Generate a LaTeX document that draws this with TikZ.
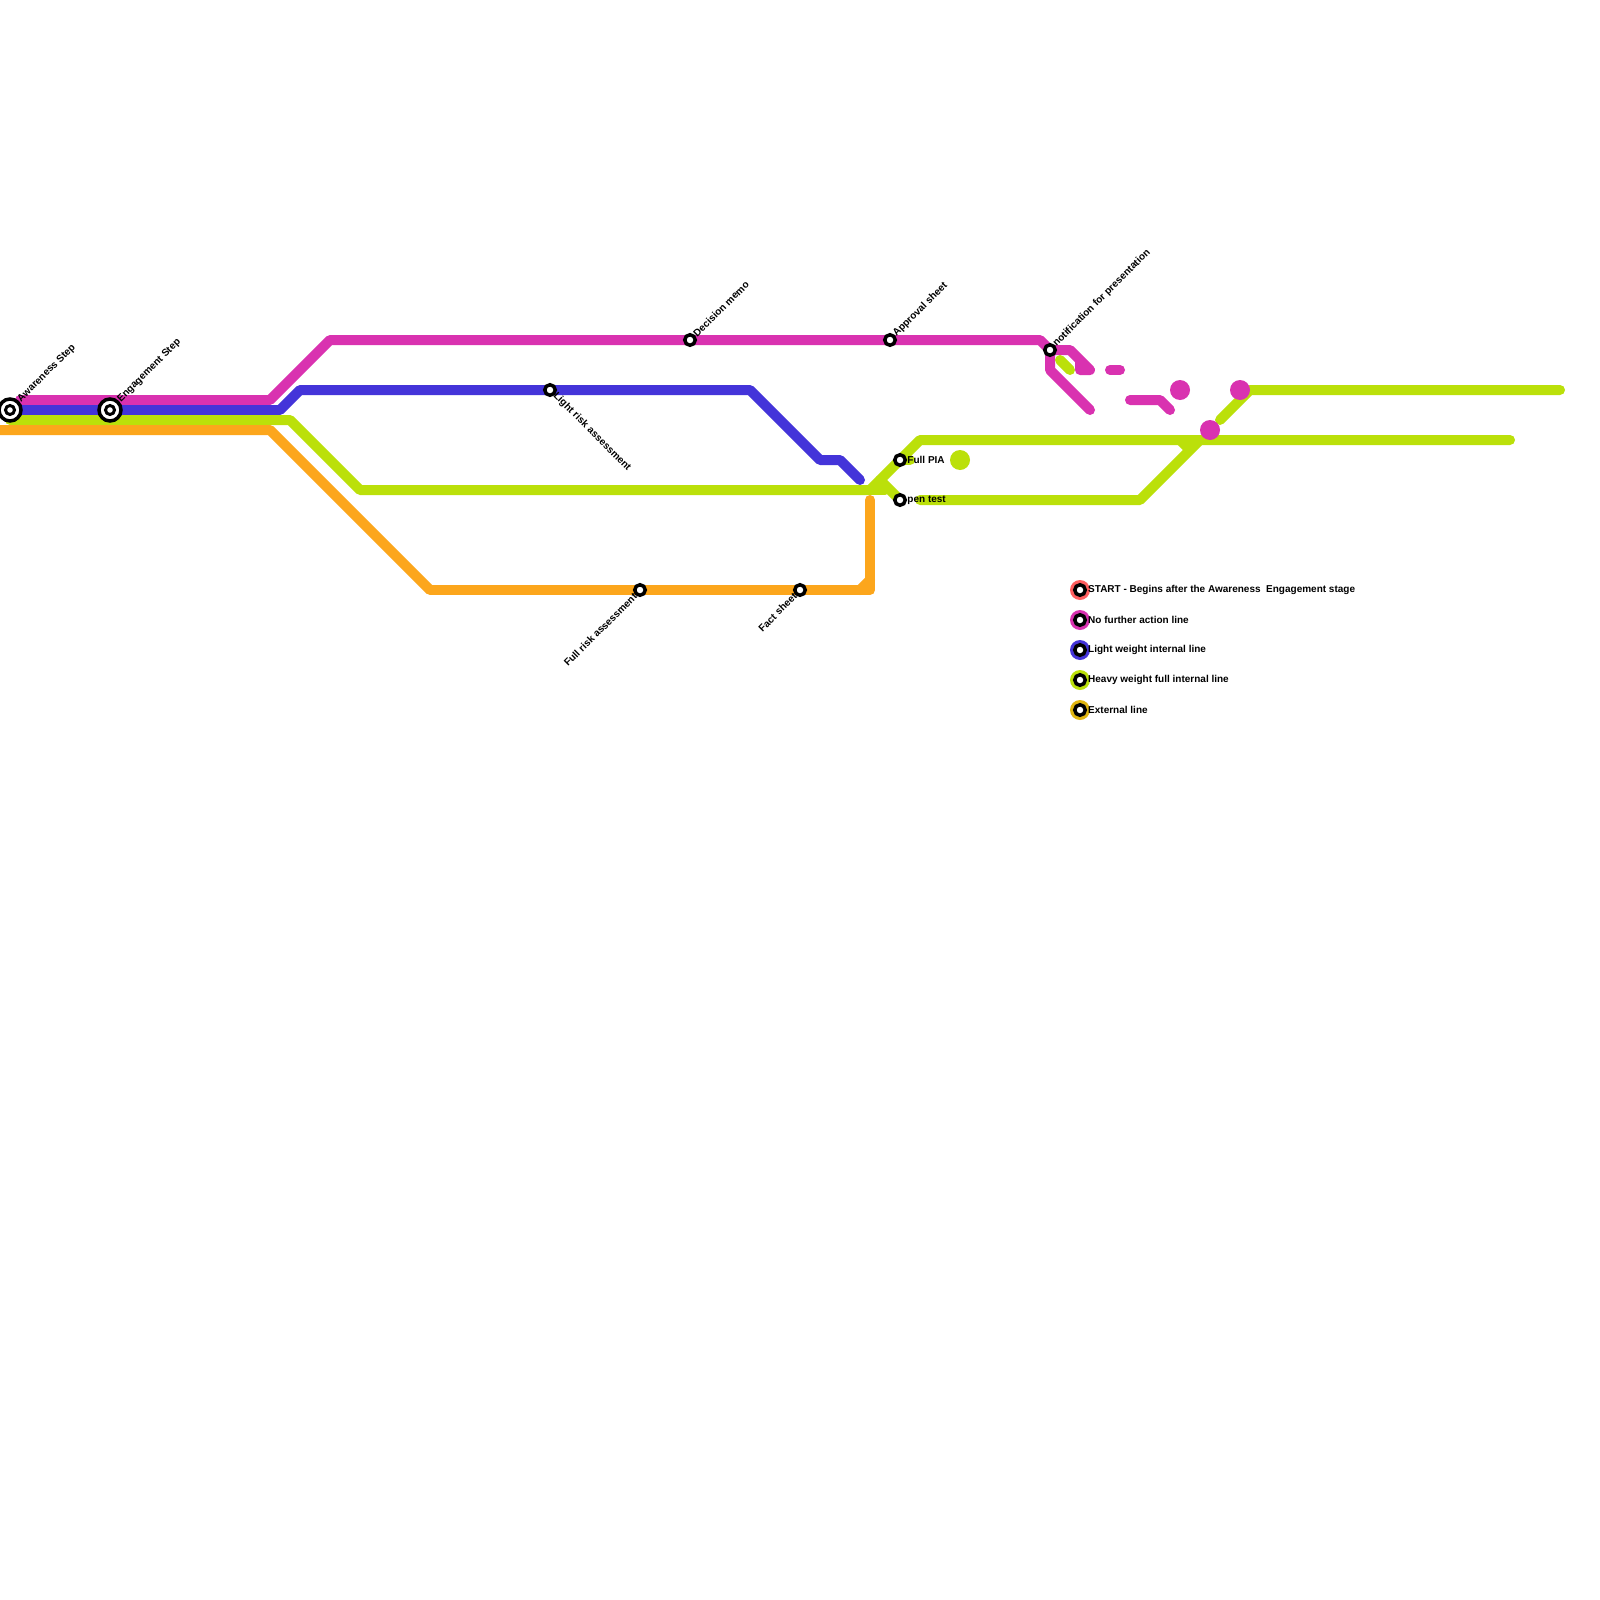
\documentclass[tikz,border=0pt]{standalone}
\usepackage{fontspec}
\setmainfont{Liberation Sans}
\usetikzlibrary{positioning}
\definecolor{nfa}{HTML}{D932B0}
\definecolor{lwt}{HTML}{4434D9}
\definecolor{hwt}{HTML}{BBE00A}
\definecolor{ext}{HTML}{FCA61C}
\definecolor{startc}{HTML}{FF5F5F}
\definecolor{extkey}{HTML}{E0B510}
\begin{document}
\begin{tikzpicture}[x=1pt, y=-1pt, every node/.style={font=\bfseries\fontsize{10pt}{12pt}\selectfont, inner sep=0pt}]
\tikzset{line/.style={line width=10pt, line cap=round, line join=round}}
\tikzset{stn/.style={draw, circle, line width=3.5pt, outer sep=0pt, fill=white, minimum size=10.5pt}}
\tikzset{startstn/.style={draw, circle, line width=3.5pt, outer sep=0pt, fill=white, minimum size=22pt}}
\tikzset{blob/.style={circle, minimum size=20pt}}
\useasboundingbox (0,0) rectangle (1600,1600);
\fill[white] (0,0) rectangle (1600,1600);
% stations
\coordinate (aware) at (10,410);
\coordinate (engage) at (110,410);
\coordinate (lrisk) at (550,390);
\coordinate (memo) at (690,340);
\coordinate (appr) at (890,340);
\coordinate (notif) at (1050,350);
\coordinate (fpia) at (900,460);
\coordinate (pent) at (900,500);
\coordinate (frisk) at (640,590);
\coordinate (fact) at (800,590);
% no further action
\draw[line, nfa] (20,400) -- (270,400) -- (330,340) -- (memo) -- (appr) -- (1040,340) -- (notif) -- (1050,370) -- (1090,410);
\draw[line, nfa] (notif) -- (1070,350) -- (1090,370) -- (1080,370) -- (1080,360);
\draw[line, nfa] (1110,370) -- (1120,370);
\draw[line, nfa] (1130,400) -- (1160,400) -- (1170,410);
% light weight
\draw[line, lwt] (aware) -- (engage) -- (280,410) -- (300,390) -- (lrisk) -- (750,390) -- (820,460) -- (840,460) -- (860,480);
% heavy weight
\draw[line, hwt] (10,420) -- (290,420) -- (360,490) -- (870,490) -- (920,440) -- (1510,440);
\draw[line, hwt] (870,490) -- (885,490);
\draw[line, hwt] (880,480) -- (pent);
\draw[line, hwt] (fpia) -- (910,460);
\draw[line, hwt] (920,500) -- (1140,500) -- (1200,440) -- (1190,450) -- (1180,440);
\draw[line, hwt] (1220,420) -- (1250,390) -- (1560,390);
\draw[line, hwt] (1060,360) -- (1070,370);
% external
\draw[line, ext, line cap=butt] (0,430) -- (270,430) -- (430,590);
\draw[line, ext] (430,590) -- (frisk) -- (fact) -- (870,590) -- (870,500);
\draw[line, ext] (860,590) -- (870,580);
% loose dots
\node[blob, fill=hwt] (dotA) at (960,460) {};
\node[blob, fill=nfa] (dotB) at (1180,390) {};
\node[blob, fill=nfa] (dotC) at (1240,390) {};
\node[blob, fill=nfa] (dotD) at (1210,430) {};
% station marks
\node[startstn] (sAware) at (aware) {};
\node[stn, line width=3pt, minimum size=9pt] at (aware) {};
\node[startstn] (sEngage) at (engage) {};
\node[stn, line width=3pt, minimum size=9pt] at (engage) {};
\foreach \s in {lrisk,memo,appr,notif,fpia,pent,frisk,fact}
  \node[stn] (s\s) at (\s) {};
\node[rotate=45, anchor=west] at ([shift={(1.5,-1.5)}]sAware.45) {Awareness Step};
\node[rotate=45, anchor=west] at ([shift={(1.5,-1.5)}]sEngage.45) {Engagement Step};
\node[rotate=-45, anchor=west] at ([shift={(1,1)}]slrisk.-45) {Light risk assessment};
\node[rotate=45, anchor=west] at ([shift={(1,-1)}]smemo.45) {Decision memo};
\node[rotate=45, anchor=west] at ([shift={(1,-1)}]sappr.45) {Approval sheet};
\node[rotate=45, anchor=west] at ([shift={(1,-1)}]snotif.45) {notification for presentation};
\node[rotate=45, anchor=east] at ([shift={(-1,1)}]sfrisk.225) {Full risk assessment};
\node[rotate=45, anchor=east] at ([shift={(-1,1)}]sfact.225) {Fact sheet};
\node[right=2pt of sfpia] {Full PIA};
\node[right=2pt of spent] {pen test};
% key
\foreach \y/\c/\t in {590/startc/{START - Begins after the Awareness\ \ Engagement stage},
    620/nfa/{No further action line},
    650/lwt/{Light weight internal line},
    680/hwt/{Heavy weight full internal line},
    710/extkey/{External line}} {
  \node[blob, fill=\c] (k\y) at (1080,\y) {};
  \node[stn] (m\y) at (k\y) {};
  \node[anchor=west] at (1088,\y-0.5) {\t};
}
\end{tikzpicture}
\end{document}
